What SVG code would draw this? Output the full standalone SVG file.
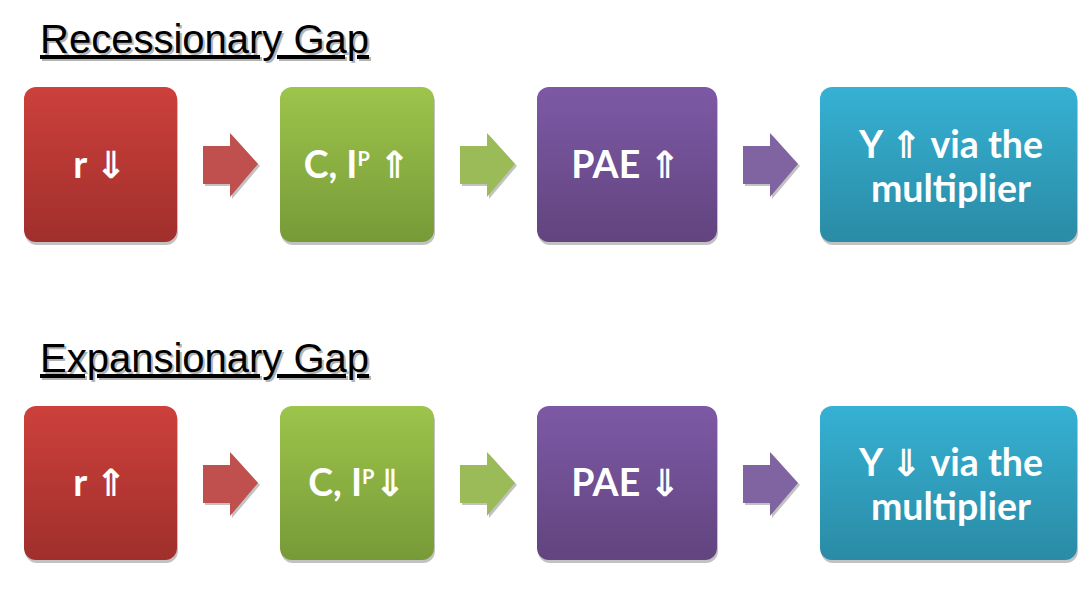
<svg xmlns="http://www.w3.org/2000/svg" width="1092" height="590" viewBox="0 0 1092 590">
<defs>
<linearGradient id="gRed" x1="0" y1="0" x2="0" y2="1"><stop offset="0" stop-color="#CD403B"/><stop offset="1" stop-color="#A02F2C"/></linearGradient>
<linearGradient id="gGreen" x1="0" y1="0" x2="0" y2="1"><stop offset="0" stop-color="#9DC44B"/><stop offset="1" stop-color="#779A38"/></linearGradient>
<linearGradient id="gPurple" x1="0" y1="0" x2="0" y2="1"><stop offset="0" stop-color="#7D59A5"/><stop offset="1" stop-color="#62447F"/></linearGradient>
<linearGradient id="gTeal" x1="0" y1="0" x2="0" y2="1"><stop offset="0" stop-color="#36B1D3"/><stop offset="1" stop-color="#2A8BA5"/></linearGradient>
<path id="arr" d="M0,13 H27 V0 L55,31 L27,64 V51 H0 Z"/>
</defs>
<style>
.title{font-family:"Liberation Sans",Arial,sans-serif;font-size:40px;text-decoration:underline;}
.lbl{font-family:Lato,"DejaVu Sans",sans-serif;font-weight:bold;font-size:37.5px;fill:#fff;text-anchor:middle;}
.sh{fill:#9a9a9a;opacity:0.6;}
.ash{fill:#999;opacity:0.6;}
</style>

<g id="title1">
<text class="title" x="42" y="55" fill="#b4b4b4">Recessionary Gap</text>
<text class="title" x="40" y="53" fill="#000">Recessionary Gap</text>
</g>
<g id="title2">
<text class="title" x="42" y="374" fill="#b4b4b4">Expansionary Gap</text>
<text class="title" x="40" y="372" fill="#000">Expansionary Gap</text>
</g>

<g id="connectors">
<use href="#arr" x="205" y="135" class="ash"/>
<use href="#arr" x="203" y="133" fill="#C0504D"/>
<use href="#arr" x="462" y="135" class="ash"/>
<use href="#arr" x="460" y="133" fill="#9BBB59"/>
<use href="#arr" x="745" y="135" class="ash"/>
<use href="#arr" x="743" y="133" fill="#8064A2"/>
<use href="#arr" x="205" y="454" class="ash"/>
<use href="#arr" x="203" y="452" fill="#C0504D"/>
<use href="#arr" x="462" y="454" class="ash"/>
<use href="#arr" x="460" y="452" fill="#9BBB59"/>
<use href="#arr" x="745" y="454" class="ash"/>
<use href="#arr" x="743" y="452" fill="#8064A2"/>
</g>

<g id="r1">
<rect x="25" y="90" width="153" height="155" rx="12" class="sh"/>
<rect x="24" y="87" width="153" height="155" rx="12" fill="url(#gRed)"/>
<text class="lbl" x="100" y="178">r ⇓</text>
</g>
<g id="c1">
<rect x="281" y="90" width="154" height="155" rx="12" class="sh"/>
<rect x="280" y="87" width="154" height="155" rx="12" fill="url(#gGreen)"/>
<text class="lbl" x="357" y="178">C, I<tspan font-size="20" dy="-12">P</tspan><tspan dy="12"> ⇑</tspan></text>
</g>
<g id="p1">
<rect x="538" y="90" width="180" height="155" rx="12" class="sh"/>
<rect x="537" y="87" width="180" height="155" rx="12" fill="url(#gPurple)"/>
<text class="lbl" x="626" y="178">PAE ⇑</text>
</g>
<g id="y1">
<rect x="821" y="90" width="257" height="155" rx="12" class="sh"/>
<rect x="820" y="87" width="257" height="155" rx="12" fill="url(#gTeal)"/>
<text class="lbl" x="951" y="158">Y ⇑ via the</text>
<text class="lbl" x="951" y="202">multiplier</text>
</g>

<g id="r2">
<rect x="25" y="409" width="153" height="154" rx="12" class="sh"/>
<rect x="24" y="406" width="153" height="154" rx="12" fill="url(#gRed)"/>
<text class="lbl" x="100" y="496">r ⇑</text>
</g>
<g id="c2">
<rect x="281" y="409" width="154" height="154" rx="12" class="sh"/>
<rect x="280" y="406" width="154" height="154" rx="12" fill="url(#gGreen)"/>
<text class="lbl" x="357" y="496">C, I<tspan font-size="20" dy="-12">P</tspan><tspan dy="12">⇓</tspan></text>
</g>
<g id="p2">
<rect x="538" y="409" width="180" height="154" rx="12" class="sh"/>
<rect x="537" y="406" width="180" height="154" rx="12" fill="url(#gPurple)"/>
<text class="lbl" x="626" y="496">PAE ⇓</text>
</g>
<g id="y2">
<rect x="821" y="409" width="257" height="154" rx="12" class="sh"/>
<rect x="820" y="406" width="257" height="154" rx="12" fill="url(#gTeal)"/>
<text class="lbl" x="951" y="476">Y ⇓ via the</text>
<text class="lbl" x="951" y="520">multiplier</text>
</g>
</svg>
